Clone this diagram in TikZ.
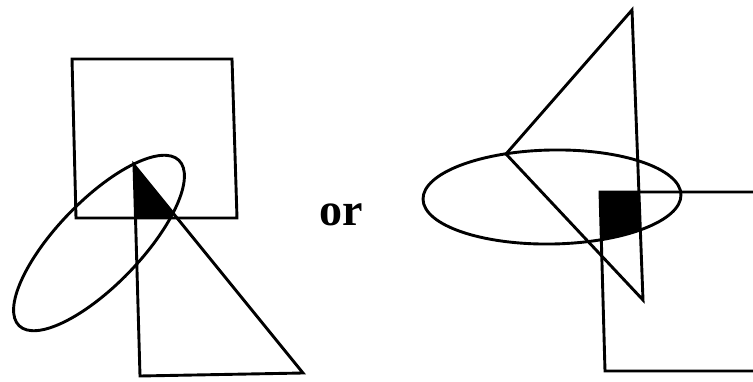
\documentclass[tikz,border=0pt]{standalone}
\usepackage{fontspec}
\setmainfont{Liberation Serif}
\begin{document}
\begin{tikzpicture}[x=1pt,y=1pt,
  outline/.style={line width=2.9pt, line join=miter},
  blackfill/.style={fill=black}]
\useasboundingbox (0,0) rectangle (753,381);
\clip (0,0) rectangle (753,381);
% ---------- left figure ----------
\coordinate (sqA) at (72,322);
\coordinate (sqB) at (232,322);
\coordinate (sqC) at (237,163);
\coordinate (sqD) at (76,163);
\coordinate (trA) at (134,216);
\coordinate (trB) at (140,5);
\coordinate (trC) at (303,8);
\coordinate (elA) at (99,138);
\begin{scope}
  \clip (sqA) -- (sqB) -- (sqC) -- (sqD) -- cycle;
  \clip (elA) ellipse[x radius=115, y radius=42, rotate=46];
  \fill[blackfill] (trA) -- (trB) -- (trC) -- cycle;
\end{scope}
\draw[outline] (sqA) -- (sqB) -- (sqC) -- (sqD) -- cycle;
\draw[outline] (trA) -- (trB) -- (trC) -- cycle;
\draw[outline] (elA) ellipse[x radius=115, y radius=42, rotate=46];
% ---------- text ----------
\node[anchor=base, font=\fontsize{46}{52}\selectfont\bfseries, inner sep=0pt] (or) at (341,156) {or};
% ---------- right figure ----------
\coordinate (tA) at (632,371);
\coordinate (tB) at (506,227);
\coordinate (tC) at (643,81);
\coordinate (rA) at (770,189);
\coordinate (rB) at (600,189);
\coordinate (rC) at (605,10);
\coordinate (rD) at (770,10);
\coordinate (eB) at (552,184);
\begin{scope}
  \clip (rA) -- (rB) -- (rC) -- (rD) -- cycle;
  \clip (eB) ellipse[x radius=129, y radius=47, rotate=1];
  \fill[blackfill] (tA) -- (tB) -- (tC) -- cycle;
\end{scope}
\draw[outline] (tA) -- (tB) -- (tC) -- cycle;
\draw[outline] (eB) ellipse[x radius=129, y radius=47, rotate=1];
\draw[outline] (rA) -- (rB) -- (rC) -- (rD);
\end{tikzpicture}
\end{document}
